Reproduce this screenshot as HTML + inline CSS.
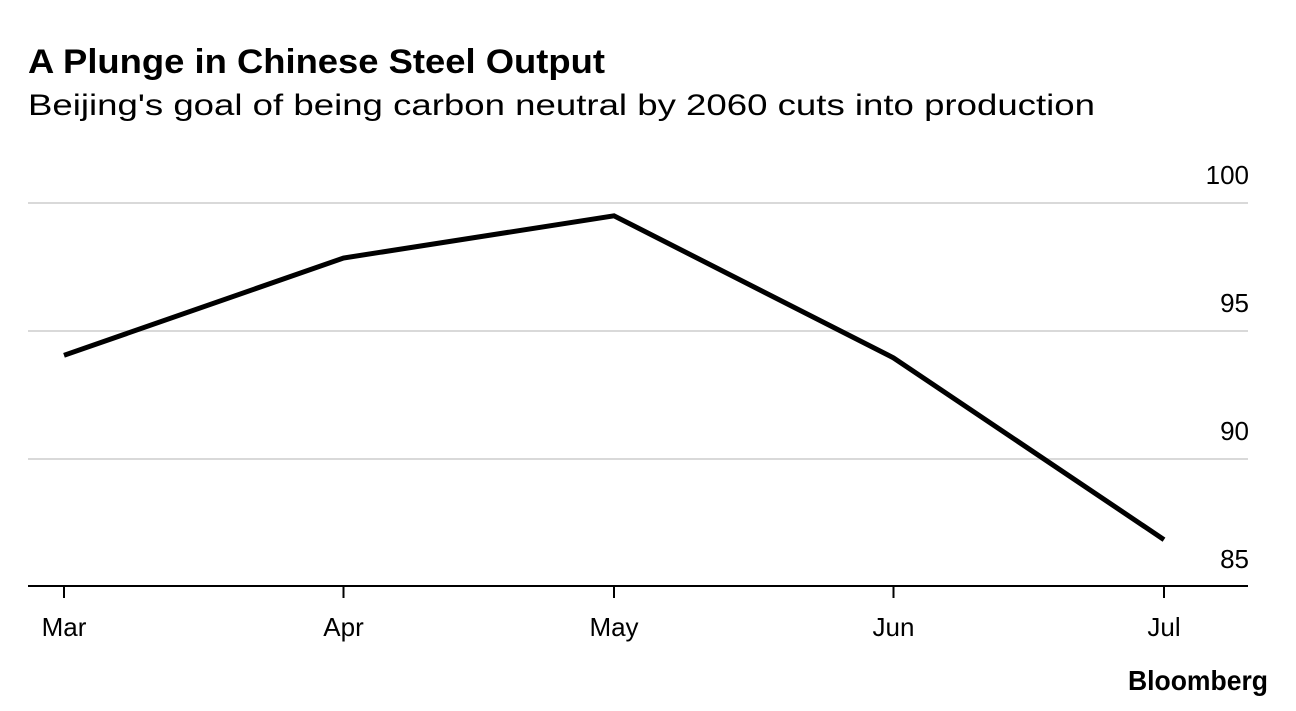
<!DOCTYPE html>
<html><head><meta charset="utf-8"><style>
body{margin:0;background:#fff;width:1296px;height:706px;overflow:hidden;font-family:"Liberation Sans",sans-serif;}
</style></head><body>
<svg width="1296" height="706">
<text x="28" y="73" font-size="34" font-weight="bold" fill="#000" textLength="577" lengthAdjust="spacingAndGlyphs">A Plunge in Chinese Steel Output</text>
<text x="28" y="115" font-size="30" fill="#000" textLength="1067" lengthAdjust="spacingAndGlyphs">Beijing's goal of being carbon neutral by 2060 cuts into production</text>
<g id="grid"></g><g id="xaxis"></g><g id="series"></g>
<text x="1128" y="690" font-size="28" font-weight="bold" fill="#000" textLength="140" lengthAdjust="spacingAndGlyphs">Bloomberg</text>
</svg>
<script>
const categories=["Mar","Apr","May","Jun","Jul"];
const dayOffsets=[0,31,61,92,122];
const values=[94.05,97.85,99.5,93.95,86.85];
const yTicks=[100,95,90,85];
const ns="http://www.w3.org/2000/svg";
const x0=64,x1=1164,yTop=203,yBot=587,vTop=100,vBot=85;
const xs=d=>x0+(d-dayOffsets[0])/(dayOffsets[dayOffsets.length-1]-dayOffsets[0])*(x1-x0);
const ys=v=>yBot-(v-vBot)/(vTop-vBot)*(yBot-yTop);
function mk(t,a,p){const e=document.createElementNS(ns,t);for(const k in a)e.setAttribute(k,a[k]);p.appendChild(e);return e;}
const grid=document.getElementById('grid');
yTicks.forEach(v=>{
  if(v!==vBot){const l=mk('line',{x1:28,x2:1248,y1:ys(v),y2:ys(v),stroke:'#d9d9d9','stroke-width':2},grid);
  
  }
  const t=mk('text',{x:1249,y:ys(v)-19,'font-size':26,'text-anchor':'end',fill:'#000'},grid);t.textContent=v;
  
  
});
const xa=document.getElementById('xaxis');
const ax=mk('line',{x1:28,x2:1248,y1:586,y2:586,stroke:'#000','stroke-width':2},xa);


categories.forEach((c,i)=>{
  const x=xs(dayOffsets[i]);
  const tk=mk('line',{x1:x,x2:x,y1:586,y2:598,stroke:'#000','stroke-width':2},xa);
  
  
  const t=mk('text',{x:x,y:636,'font-size':26,'text-anchor':'middle',fill:'#000'},xa);t.textContent=c;
  
  
});
const pts=values.map((v,i)=>xs(dayOffsets[i])+','+ys(v)).join(' ');
const pl=mk('polyline',{points:pts,fill:'none',stroke:'#000','stroke-width':5,'stroke-linejoin':'miter'},document.getElementById('series'));


</script>
</body></html>
